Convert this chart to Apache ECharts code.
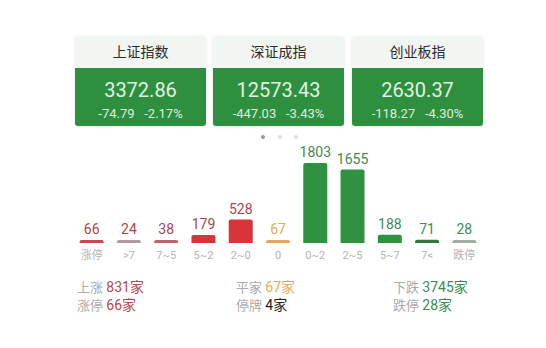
<!DOCTYPE html>
<html>
<head>
<meta charset="utf-8">
<script src="https://cdn.jsdelivr.net/npm/echarts@6/dist/echarts.min.js"></script>
<style>
  html, body { margin: 0; padding: 0; background: #fff; }
  #chart { width: 546px; height: 348px; }
</style>
</head>
<body>
<div id="chart"></div>
<script>
// 指数卡片
const indexNames = ['上证指数', '深证成指', '创业板指'];
const indexValues = ['3372.86', '12573.43', '2630.37'];
const indexChanges = ['-74.79', '-447.03', '-118.27'];
const indexPercents = ['-2.17%', '-3.43%', '-4.30%'];

// 涨跌分布
const categories = ['涨停', '>7', '7~5', '5~2', '2~0', '0', '0~2', '2~5', '5~7', '7<', '跌停'];
const counts = [66, 24, 38, 179, 528, 67, 1803, 1655, 188, 71, 28];
const barColors = ['#c9474d', '#b09ca0', '#c2606a', '#d4363a', '#d8343a', '#e9a457',
  '#2f9241', '#2f9241', '#2f9241', '#2c7a3a', '#a3aea3'];
const labelColors = ['#a94750', '#a94750', '#a94750', '#a94750', '#a94750', '#e3a95a',
  '#3f8a52', '#3f8a52', '#3f8a52', '#3f8a52', '#3f8a52'];

// 底部统计
const statLabels = [['上涨', '涨停'], ['平家', '停牌'], ['下跌', '跌停']];
const statValues = [['831家', '66家'], ['67家', '4家'], ['3745家', '28家']];
const statColors = [['#b5484f', '#b5484f'], ['#e2ad57', '#222'], ['#3d8a52', '#3d8a52']];

const font = 'Roboto, "Noto Sans CJK SC", sans-serif';
const cardX = [75, 213, 352];
const cardW = 131;

const graphics = [];
indexNames.forEach((name, i) => {
  const x = cardX[i];
  graphics.push(
    { type: 'rect', shape: { x, y: 37, width: cardW, height: 89, r: 3 },
      style: { fill: '#f2f6f2', shadowBlur: 3, shadowColor: 'rgba(0,0,0,0.12)' } },
    { type: 'rect', shape: { x, y: 68, width: cardW, height: 58, r: [0, 0, 3, 3] },
      style: { fill: '#2e8f3e' } },
    { type: 'text', x: x + cardW / 2, y: 52,
      style: { text: name, fill: '#2a2a2a', font: `14px ${font}`, align: 'center', verticalAlign: 'middle' } },
    { type: 'text', x: x + cardW / 2, y: 90,
      style: { text: indexValues[i], fill: '#e3f3e3', font: `20px ${font}`, align: 'center', verticalAlign: 'middle' } },
    { type: 'text', x: x + cardW / 2, y: 113,
      style: { text: indexChanges[i] + '   ' + indexPercents[i], fill: '#dcefdc', font: `13px ${font}`, align: 'center', verticalAlign: 'middle' } }
  );
});
[[263, '#999'], [280, '#ddd'], [296, '#ddd']].forEach(([cx, c]) => {
  graphics.push({ type: 'circle', shape: { cx, cy: 137, r: 2 }, style: { fill: c } });
});
const statX = [77, 236, 393];
statLabels.forEach((col, i) => {
  col.forEach((lab, j) => {
    graphics.push({
      type: 'text', x: statX[i], y: 287 + j * 18,
      style: {
        text: `{l|${lab}} {v|${statValues[i][j]}}`,
        verticalAlign: 'middle',
        rich: {
          l: { fill: '#aaa', font: `13px ${font}` },
          v: { fill: statColors[i][j], font: `14px ${font}` },
        },
      },
    });
  });
});

const chart = echarts.init(document.getElementById('chart'), null, { renderer: 'svg' });
chart.setOption({
  animation: false,
  grid: { left: 73, right: 63, top: 163, bottom: 105 },
  xAxis: {
    type: 'category',
    data: categories,
    axisLine: { show: false },
    axisTick: { show: false },
    axisLabel: { color: '#b3b3b3', fontSize: 11, fontFamily: font, margin: 7 },
  },
  yAxis: { type: 'value', min: 0, max: 1803, show: false },
  series: [{
    type: 'bar',
    barWidth: 24,
    barMinHeight: 3,
    data: counts.map((v, i) => ({
      value: v,
      itemStyle: { color: barColors[i] },
      label: { color: labelColors[i] },
    })),
    itemStyle: { borderRadius: [2, 2, 0, 0] },
    label: { show: true, position: 'top', distance: 4, fontSize: 14, fontFamily: font },
  }],
  graphic: graphics,
});
window.addEventListener('resize', () => chart.resize());
</script>
</body>
</html>
